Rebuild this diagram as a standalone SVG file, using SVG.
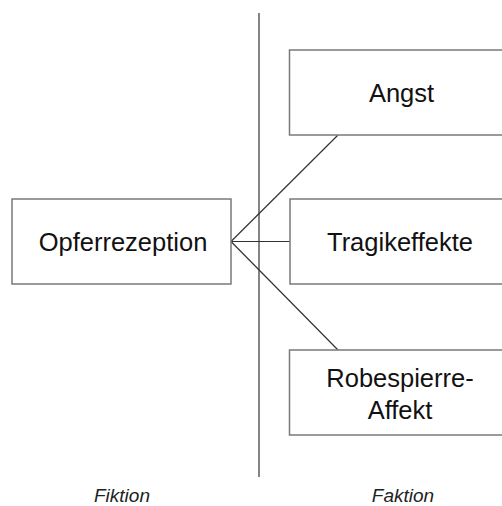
<svg xmlns="http://www.w3.org/2000/svg" width="502" height="506" viewBox="0 0 502 506">
<style>
.box{fill:#fff;stroke:#7a7a7a;stroke-width:1.5}
.t{font-family:"Liberation Sans",Arial,sans-serif;font-size:25.5px;fill:#111;text-anchor:middle}
.lab{font-family:"Liberation Sans",Arial,sans-serif;font-size:19px;font-style:italic;fill:#222;text-anchor:middle}
.c{stroke:#333;stroke-width:1.2;fill:none}
</style>
<rect width="502" height="506" fill="#fff"/>
<g id="connectors">
<line class="c" x1="259" y1="13" x2="259" y2="477"/>
<line class="c" x1="231" y1="241.5" x2="338" y2="135"/>
<line class="c" x1="231" y1="241.5" x2="290" y2="241.5"/>
<line class="c" x1="231" y1="241.5" x2="338" y2="350"/>
</g>
<g id="opferrezeption">
<rect class="box" x="12" y="199" width="219" height="85"/>
<text class="t" x="123" y="251">Opferrezeption</text>
</g>
<g id="angst">
<rect class="box" x="289.5" y="50" width="220" height="85"/>
<text class="t" x="401.5" y="102">Angst</text>
</g>
<g id="tragikeffekte">
<rect class="box" x="290" y="199" width="220" height="85"/>
<text class="t" x="400" y="251">Tragikeffekte</text>
</g>
<g id="robespierre">
<rect class="box" x="289.5" y="350" width="220" height="85"/>
<text class="t" x="400" y="387">Robespierre-</text>
<text class="t" x="400" y="419">Affekt</text>
</g>
<g id="labels">
<text class="lab" x="122" y="502">Fiktion</text>
<text class="lab" x="403" y="502">Faktion</text>
</g>
</svg>
